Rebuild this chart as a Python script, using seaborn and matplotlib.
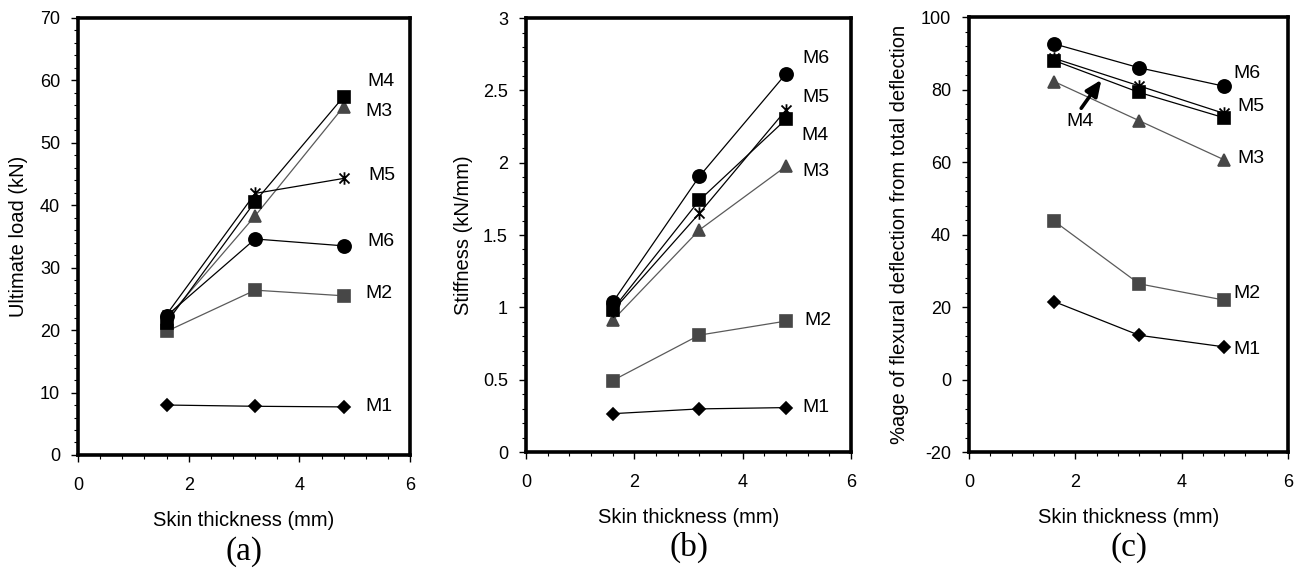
import matplotlib
matplotlib.use("Agg")
import matplotlib.pyplot as plt
from matplotlib.path import Path
from matplotlib.ticker import AutoMinorLocator, FormatStrFormatter
import seaborn as sns
import pandas as pd

# skin thickness (mm)
thickness = [1.6, 3.2, 4.8]
series = ["M1", "M2", "M3", "M4", "M5", "M6"]

# (a) ultimate load (kN)
load_m1 = [8.0, 7.8, 7.7]
load_m2 = [19.8, 26.4, 25.5]
load_m3 = [21.8, 38.3, 55.8]
load_m4 = [21.2, 40.6, 57.4]
load_m5 = [22.5, 41.9, 44.3]
load_m6 = [22.3, 34.6, 33.5]

# (b) stiffness (kN/mm)
stiff_m1 = [0.265, 0.298, 0.307]
stiff_m2 = [0.494, 0.808, 0.905]
stiff_m3 = [0.91, 1.535, 1.975]
stiff_m4 = [0.985, 1.74, 2.30]
stiff_m5 = [0.975, 1.65, 2.365]
stiff_m6 = [1.035, 1.905, 2.615]

# (c) % of flexural deflection from total deflection
flex_m1 = [21.5, 12.2, 9.0]
flex_m2 = [43.7, 26.4, 21.9]
flex_m3 = [82.2, 71.4, 60.6]
flex_m4 = [88.0, 79.2, 72.2]
flex_m5 = [88.6, 81.0, 73.4]
flex_m6 = [92.6, 86.0, 80.9]

panels = [
    dict(values=[load_m1, load_m2, load_m3, load_m4, load_m5, load_m6],
         ylabel="Ultimate load (kN)", ylim=(0, 70), ystep=10, fmt="%g",
         tag="(a)", rect=[0.0599, 0.2032, 0.2548, 0.7653], ylab_x=-0.15),
    dict(values=[stiff_m1, stiff_m2, stiff_m3, stiff_m4, stiff_m5, stiff_m6],
         ylabel="Stiffness (kN/mm)", ylim=(0, 3), ystep=0.5, fmt="%g",
         tag="(b)", rect=[0.4037, 0.2084, 0.2494, 0.7600], ylab_x=-0.163),
    dict(values=[flex_m1, flex_m2, flex_m3, flex_m4, flex_m5, flex_m6],
         ylabel="%age of flexural deflection from total deflection",
         ylim=(-20, 100), ystep=20, fmt="%g",
         tag="(c)", rect=[0.7437, 0.2084, 0.2448, 0.7618], ylab_x=-0.188),
]

# label placement (data coords) for each panel
label_pos = [
    {"M1": (5.2, 7.7), "M2": (5.2, 25.9), "M3": (5.2, 55.1),
     "M4": (5.22, 59.9), "M5": (5.25, 44.7), "M6": (5.22, 34.2)},
    {"M1": (5.1, 0.307), "M2": (5.14, 0.91), "M3": (5.1, 1.94),
     "M4": (5.08, 2.19), "M5": (5.1, 2.45), "M6": (5.1, 2.72)},
    {"M1": (4.98, 8.2), "M2": (4.98, 23.7), "M3": (5.04, 60.9),
     "M5": (5.04, 75.3), "M6": (4.98, 84.3)},
]

# Excel-style star: an X with a vertical bar through it
star = Path([(0, -1), (0, 1), (-0.8, -0.8), (0.8, 0.8), (-0.8, 0.8), (0.8, -0.8)],
            [Path.MOVETO, Path.LINETO, Path.MOVETO, Path.LINETO, Path.MOVETO, Path.LINETO])

styles = {
    "M1": dict(marker="D", ms=6, color="black", lc="black", mew=1.2),
    "M2": dict(marker="s", ms=9, color="#474747", lc="#5a5a5a", mew=1.2),
    "M3": dict(marker="^", ms=8.5, color="#474747", lc="#5a5a5a", mew=1.2),
    "M4": dict(marker="s", ms=9, color="black", lc="black", mew=1.2),
    "M5": dict(marker=star, ms=9, color="black", lc="black", mew=1.3),
    "M6": dict(marker="o", ms=9.5, color="black", lc="black", mew=1.2),
}

sns.set_theme(style="white")
plt.rcParams["font.family"] = ["Liberation Sans", "DejaVu Sans"]

fig = plt.figure(figsize=(13.03, 5.71), dpi=100)

for i, p in enumerate(panels):
    ax = fig.add_axes(p["rect"])
    df = pd.DataFrame({"x": thickness * len(series),
                       "y": [v for vals in p["values"] for v in vals],
                       "s": [s for s in series for _ in thickness]})
    for name in series:
        st = styles[name]
        sub = df[df["s"] == name]
        sns.lineplot(data=sub, x="x", y="y", ax=ax, color=st["lc"], lw=0.9,
                     marker=st["marker"], markersize=st["ms"],
                     markerfacecolor=st["color"], markeredgecolor=st["color"],
                     markeredgewidth=st["mew"], legend=False)
    for name, (tx, ty) in label_pos[i].items():
        ax.text(tx, ty, name, fontsize=14, ha="left", va="center", color="black")

    if i == 2:
        ax.text(1.83, 71.3, "M4", fontsize=14, ha="left", va="center", color="black")
        ax.annotate("", xy=(2.52, 83.3), xytext=(2.08, 74.2),
                    arrowprops=dict(arrowstyle="-|>,head_length=0.8,head_width=0.35",
                                    color="black", lw=2.6))

    ax.set_xlim(0, 6)
    ax.set_ylim(*p["ylim"])
    ax.set_xticks([0, 2, 4, 6])
    lo, hi = p["ylim"]
    step = p["ystep"]
    n = int(round((hi - lo) / step))
    ax.set_yticks([lo + k * step for k in range(n + 1)])
    ax.yaxis.set_major_formatter(FormatStrFormatter(p["fmt"]))
    ax.xaxis.set_minor_locator(AutoMinorLocator(5))
    ax.yaxis.set_minor_locator(AutoMinorLocator(5))
    ax.tick_params(axis="both", which="both", direction="out", colors="black",
                   bottom=True, left=True, top=False, right=False)
    ax.tick_params(axis="both", which="major", length=5, width=1, labelsize=13)
    ax.tick_params(axis="both", which="minor", length=3, width=0.8)
    ax.tick_params(axis="x", which="major", pad=11)
    ax.tick_params(axis="y", which="major", pad=8)
    for sp in ax.spines.values():
        sp.set_visible(True)
        sp.set_color("black")
        sp.set_linewidth(2.6)

    ax.set_ylabel(p["ylabel"], fontsize=14.5, color="black")
    ax.yaxis.set_label_coords(p["ylab_x"], 0.5)
    ax.set_xlabel("Skin thickness (mm)", fontsize=14.5, color="black")
    ax.xaxis.set_label_coords(0.5, -0.128)
    ax.text(0.5, -0.22, p["tag"], transform=ax.transAxes, ha="center",
            va="center", fontsize=24, family="Liberation Serif", color="black")
    ax.grid(False)

fig.savefig("out.png", dpi=100, facecolor="white")
